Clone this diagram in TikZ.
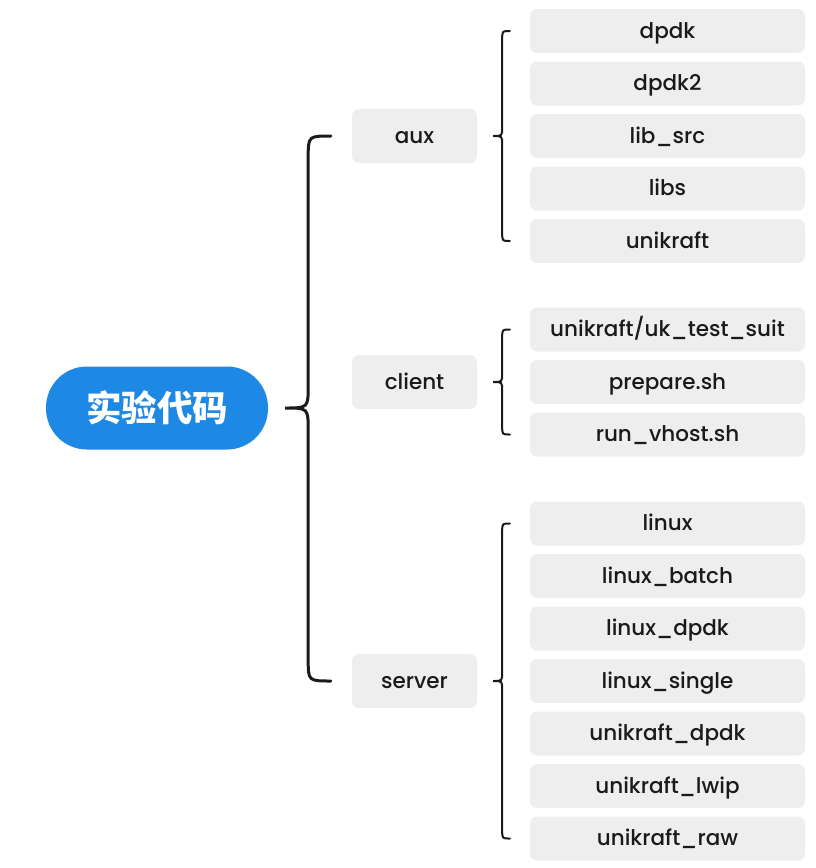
\documentclass[tikz,border=0pt]{standalone}
\usepackage{fontspec}
\setmainfont{Poppins}[UprightFont={* Medium}]
\newfontfamily\cjk{Noto Sans CJK SC}
\usetikzlibrary{calc}
\definecolor{rootblue}{HTML}{1E88E5}
\definecolor{boxgray}{HTML}{EEEEEE}
\definecolor{ink}{HTML}{1A1A1A}
\tikzset{
  rootbox/.style={fill=rootblue, text=white, minimum width=222pt, minimum height=83pt, rounded corners=41pt, inner sep=0pt, font=\cjk\bfseries\fontsize{35.5}{40}\selectfont},
  midbox/.style={fill=boxgray, text=ink, minimum width=125pt, minimum height=54pt, rounded corners=7pt, inner sep=0pt, text height=14pt, text depth=0pt, font=\fontsize{21.5}{25}\selectfont},
  leafbox/.style={fill=boxgray, text=ink, minimum width=275pt, minimum height=44pt, rounded corners=7pt, inner sep=0pt, text height=14pt, text depth=0pt, font=\fontsize{21.5}{25}\selectfont},
  bigbrace/.style={draw=ink, line width=3pt, line cap=round},
  smallbrace/.style={draw=ink, line width=2pt, line cap=round},
}
% #1 style, #2 top end, #3 tip, #4 bottom end, #5 offset of the vertical line from tip, #6 corner radius
\newcommand\mybrace[6]{%
  \path[#1] let \p1=(#2), \p2=(#3), \p3=(#4), \n1={\x2+#5} in
    (\x1,\y1) .. controls (\n1,\y1) .. (\n1,\y1-#6)
    -- (\n1,\y2+#5)
    .. controls (\n1,\y2) .. (\x2,\y2)
    .. controls (\n1,\y2) .. (\n1,\y2-#5)
    -- (\n1,\y3+#6)
    .. controls (\n1,\y3) .. (\x3,\y3);
}
\begin{document}
\begin{tikzpicture}[x=1pt,y=-1pt]
\useasboundingbox (0,0) rectangle (816,868);
\node[rootbox] (root) at (157,408) {实验代码};
\node[midbox] (aux) at (414.5,136) {aux};
\node[midbox] (client) at (414.5,382) {client};
\node[midbox] (server) at (414.5,681) {server};
% aux leaves
\node[leafbox] (l1) at (667.5,31) {dpdk};
\node[leafbox] (l2) at (667.5,83.5) {dpdk2};
\node[leafbox] (l3) at (667.5,136) {lib\_src};
\node[leafbox] (l4) at (667.5,188.5) {libs};
\node[leafbox] (l5) at (667.5,241) {unikraft};
% client leaves
\node[leafbox] (c1) at (667.5,329.5) {unikraft/uk\_test\_suit};
\node[leafbox] (c2) at (667.5,382) {prepare.sh};
\node[leafbox] (c3) at (667.5,434.5) {run\_vhost.sh};
% server leaves
\node[leafbox] (s1) at (667.5,523.5) {linux};
\node[leafbox] (s2) at (667.5,576) {linux\_batch};
\node[leafbox] (s3) at (667.5,628.5) {linux\_dpdk};
\node[leafbox] (s4) at (667.5,681) {linux\_single};
\node[leafbox] (s5) at (667.5,733.5) {unikraft\_dpdk};
\node[leafbox] (s6) at (667.5,786) {unikraft\_lwip};
\node[leafbox] (s7) at (667.5,838.5) {unikraft\_raw};
% brace anchors
\coordinate (rtip) at ($(root.east)+(17,0)$);
\coordinate (rtop) at ($(aux.west)+(-21,0)$);
\coordinate (rbot) at ($(server.west)+(-21,0)$);
\mybrace{bigbrace}{rtop}{rtip}{rbot}{23pt}{22pt}
\coordinate (atip) at ($(aux.east)+(16,0)$);
\coordinate (atop) at ($(l1.west)+(-20,0)$);
\coordinate (abot) at ($(l5.west)+(-20,0)$);
\mybrace{smallbrace}{atop}{atip}{abot}{9pt}{8pt}
\coordinate (ctip) at ($(client.east)+(16,0)$);
\coordinate (ctop) at ($(c1.west)+(-20,0)$);
\coordinate (cbot) at ($(c3.west)+(-20,0)$);
\mybrace{smallbrace}{ctop}{ctip}{cbot}{9pt}{8pt}
\coordinate (stip) at ($(server.east)+(16,0)$);
\coordinate (stop) at ($(s1.west)+(-20,0)$);
\coordinate (sbot) at ($(s7.west)+(-20,0)$);
\mybrace{smallbrace}{stop}{stip}{sbot}{9pt}{8pt}
\end{tikzpicture}
\end{document}
